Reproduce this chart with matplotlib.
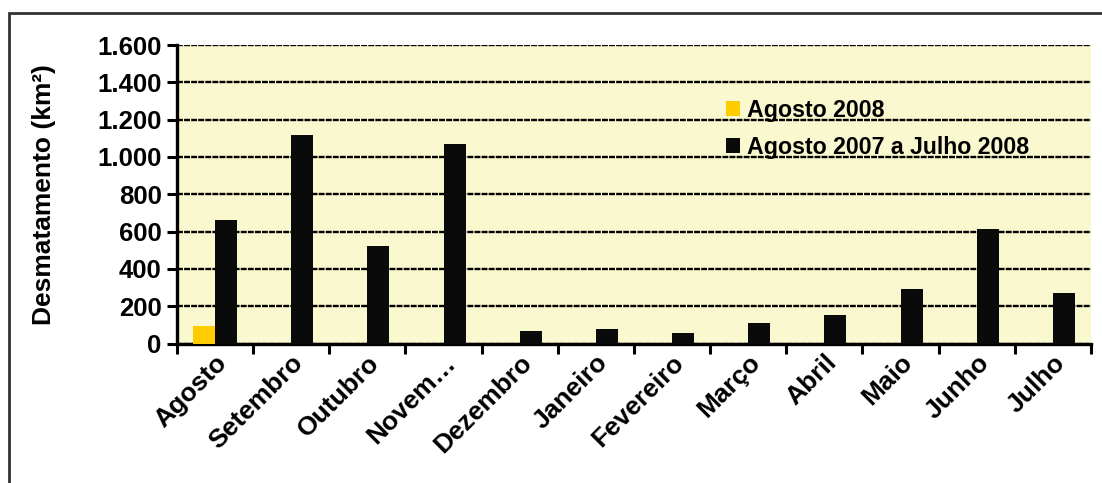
import matplotlib.pyplot as plt
import matplotlib.patches as patches
import numpy as np

plt.rcParams['font.family'] = ['Liberation Sans', 'DejaVu Sans']
plt.rcParams['font.weight'] = 'bold'

# dados mensais de desmatamento (km²)
meses = ["Agosto", "Setembro", "Outubro", "Novem…", "Dezembro", "Janeiro",
         "Fevereiro", "Março", "Abril", "Maio", "Junho", "Julho"]
agosto_2008 = [94, 0, 0, 0, 0, 0, 0, 0, 0, 0, 0, 0]
ago07_jul08 = [662, 1119, 521, 1067, 65, 76, 58, 108, 153, 294, 612, 272]

fig = plt.figure(figsize=(11.02, 4.83), dpi=100)
ax = fig.add_axes([0.1606, 0.2888, 0.8294, 0.618])

# moldura externa
fig.patches.append(patches.Rectangle((0.0082, -0.05), 1.2, 1.023, transform=fig.transFigure,
                                     fill=False, edgecolor='#333333', linewidth=2))

x = np.arange(len(meses))
w = 0.29
ax.bar(x - w / 2, agosto_2008, w, color='#FFCC00', label='Agosto 2008', zorder=3)
ax.bar(x + w / 2, ago07_jul08, w, color='#0a0a0a', label='Agosto 2007 a Julho 2008', zorder=3)

ax.set_facecolor('#FAF8CE')
ax.set_xlim(-0.5, len(meses) - 0.5)
ax.set_ylim(0, 1600)
ax.set_yticks(range(0, 1601, 200))
ax.set_yticklabels([f"{v:,}".replace(",", ".") for v in range(0, 1601, 200)], fontsize=18.5, fontweight='bold')
ax.yaxis.grid(True, color='black', linewidth=1.7, linestyle=(0, (2.5, 0.5)), zorder=1)
ax.set_axisbelow(True)

ax.set_xticks(x)
ax.set_xticklabels(meses, rotation=45, ha='right', rotation_mode='anchor', fontsize=19, fontweight='bold')
ax.set_xticks(np.arange(-0.5, len(meses)), minor=True)
ax.tick_params(axis='x', which='major', length=0, pad=5)
ax.tick_params(axis='x', which='minor', length=7, width=2.2, direction='out')
ax.tick_params(axis='y', length=7, width=2.2, direction='out', pad=4)

for s in ['top', 'right']:
    ax.spines[s].set_visible(False)
ax.spines['left'].set_linewidth(2.4)
ax.spines['bottom'].set_linewidth(2.4)

ax.set_ylabel("Desmatamento (km²)", fontsize=19, fontweight='bold', labelpad=30)

ax.legend(loc='upper left', bbox_to_anchor=(0.578, 0.89), frameon=False,
          handlelength=0.6, handleheight=0.6, handletextpad=0.3, labelspacing=0.6,
          prop={'weight': 'bold', 'size': 16.7})

fig.savefig('out.png', dpi=100)
